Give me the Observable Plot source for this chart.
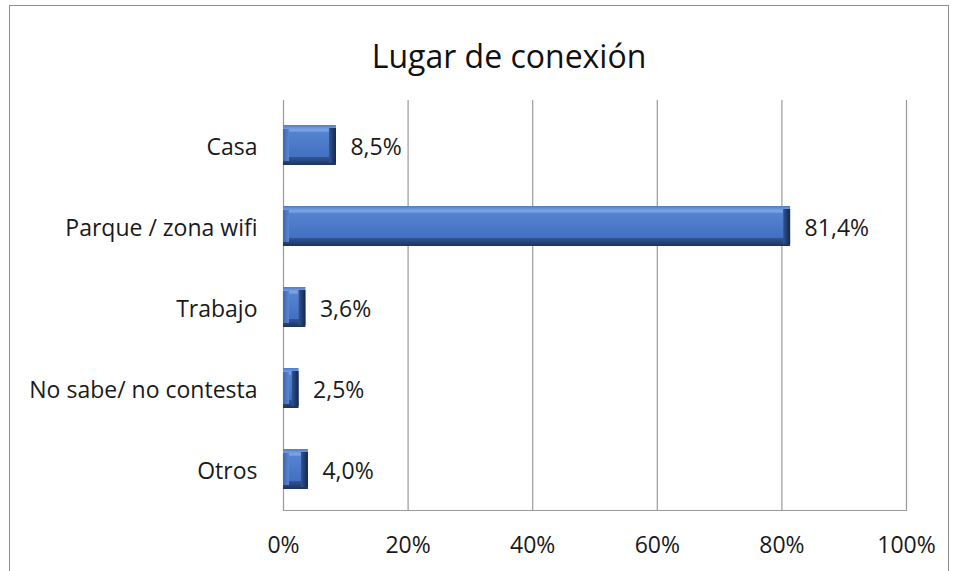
<!DOCTYPE html>
<html>
<head>
<meta charset="utf-8">
<script src="https://cdn.jsdelivr.net/npm/d3@7"></script>
<script src="https://cdn.jsdelivr.net/npm/@observablehq/plot@0.6"></script>
<style>
  html, body { margin: 0; padding: 0; background: #fff; }
  body { width: 954px; height: 571px; position: relative; overflow: hidden; font-family: "Open Sans", Lato, sans-serif; }
  #border { position: absolute; left: 9px; top: 5px; width: 940px; height: 600px; border: 1px solid #8c8c8c; box-sizing: border-box; }
  #title { position: absolute; left: 0; width: 1018px; top: 34px; text-align: center; font-size: 32px; color: #111; }
  #chart { position: absolute; left: 0; top: 0; }
</style>
</head>
<body>
<svg width="0" height="0" style="position:absolute">
  <defs>
    <linearGradient id="vgrad" x1="0" y1="0" x2="0" y2="1">
      <stop offset="0" stop-color="#4f7cc9"/>
      <stop offset="0.12" stop-color="#7ea4e4"/>
      <stop offset="0.22" stop-color="#5a87d3"/>
      <stop offset="0.6" stop-color="#4472c4"/>
      <stop offset="0.82" stop-color="#2f5392"/>
      <stop offset="1" stop-color="#1c335c"/>
    </linearGradient>
    <linearGradient id="rgrad" x1="0" y1="0" x2="1" y2="0">
      <stop offset="0" stop-color="#2f5597"/>
      <stop offset="1" stop-color="#15264a"/>
    </linearGradient>
    <linearGradient id="lgrad" x1="0" y1="0" x2="1" y2="0">
      <stop offset="0" stop-color="#3c66b0"/>
      <stop offset="1" stop-color="#5a86d2"/>
    </linearGradient>
    <linearGradient id="fgrad" x1="0" y1="0" x2="0" y2="1">
      <stop offset="0" stop-color="#5683d0"/>
      <stop offset="1" stop-color="#4270c2"/>
    </linearGradient>
  </defs>
</svg>
<div id="border"></div>
<div id="title">Lugar de conexión</div>
<div id="chart"></div>
<script>
const categories = ["Casa", "Parque / zona wifi", "Trabajo", "No sabe/ no contesta", "Otros"];
const values = [8.5, 81.4, 3.6, 2.5, 4.0];
const labels = ["8,5%", "81,4%", "3,6%", "2,5%", "4,0%"];
const ticks = [0, 20, 40, 60, 80, 100];

const data = categories.map((c, i) => ({cat: c, v: values[i], label: labels[i]}));

const plot = Plot.plot({
  width: 954,
  height: 571,
  marginLeft: 283,
  marginRight: 48,
  marginTop: 100,
  marginBottom: 61,
  style: {fontFamily: "'Open Sans', Lato, sans-serif", fontSize: "23px", color: "#1a1a1a", background: "transparent"},
  x: {domain: [0, 100], ticks: ticks, tickFormat: d => d + "%", label: null},
  y: {domain: categories, range: [104, 510], paddingInner: 0.51, paddingOuter: 0.255, label: null},
  marks: [
    Plot.ruleX(ticks, {stroke: "#9a9a9a", strokeWidth: 1.2, strokeOpacity: 1}),
    Plot.frame({anchor: "bottom", stroke: "#9a9a9a", strokeWidth: 1.2}),
    Plot.barX(data, {x1: 0, x2: "v", y: "cat", fill: "url(#vgrad)"}),
    Plot.barX(data, {x1: 0, x2: 0, y: "cat", insetRight: -6, insetTop: 4, insetBottom: 4, fill: "url(#lgrad)"}),
    Plot.barX(data, {x1: "v", x2: "v", y: "cat", insetLeft: -7, insetTop: 3, insetBottom: 2, fill: "url(#rgrad)"}),
    Plot.barX(data, {x1: 0, x2: "v", y: "cat", insetLeft: 6, insetRight: 7, insetTop: 7, insetBottom: 8, fill: "url(#fgrad)"}),
    Plot.text(data, {x: "v", y: "cat", text: "label", textAnchor: "start", dx: 14, dy: 2, fill: "#1a1a1a", fontSize: 23}),
    Plot.axisX({ticks: ticks, tickFormat: d => d + "%", tickSize: 0, tickPadding: 26, label: null, fontSize: 23}),
    Plot.axisY({tickSize: 0, tickPadding: 26, dy: 2, label: null, fontSize: 23})
  ]
});
document.getElementById("chart").appendChild(plot);
</script>
</body>
</html>
